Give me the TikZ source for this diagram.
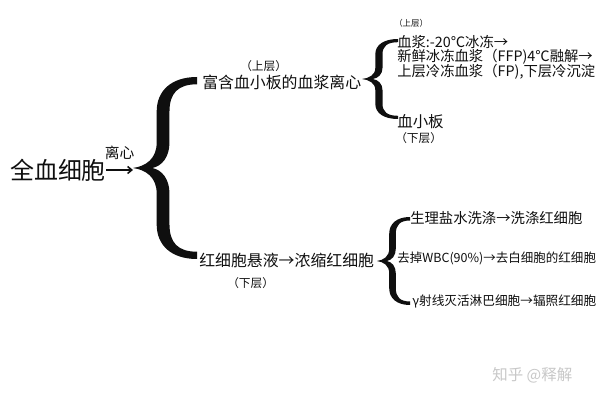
\documentclass[tikz,border=0pt]{standalone}
\usepackage{fontspec}
\setmainfont{Noto Sans CJK SC}
\definecolor{inkblack}{RGB}{15,15,15}
\definecolor{markgray}{RGB}{200,200,200}
\usetikzlibrary{arrows.meta}
\newcommand{\fsz}[1]{\fontsize{#1}{#1}\selectfont}
\tikzset{
  curly/.pic={
    \fill[inkblack] (1,1) .. controls (0.6,1) and (0.37,0.85) .. (0.37,0.62)
      -- (0.37,0.28) .. controls (0.37,0.1) and (0.2,0.02) .. (0,0)
      .. controls (0.2,-0.02) and (0.37,-0.1) .. (0.37,-0.28)
      -- (0.37,-0.62) .. controls (0.37,-0.85) and (0.6,-1) .. (1,-1)
      -- (1,-0.92) .. controls (0.7,-0.92) and (0.57,-0.82) .. (0.57,-0.62)
      -- (0.57,-0.28) .. controls (0.57,-0.12) and (0.45,-0.02) .. (0.3,0)
      .. controls (0.45,0.02) and (0.57,0.12) .. (0.57,0.28)
      -- (0.57,0.62) .. controls (0.57,0.82) and (0.7,0.92) .. (1,0.92) -- cycle;
  },
  lbl/.style={anchor=west, inner sep=0pt, text=inkblack},
  bigtxt/.style={lbl, font=\fsz{17pt}},
  midtxt/.style={lbl, font=\fsz{11.3pt}},
  smltxt/.style={lbl, font=\fsz{10.2pt}},
  layer/.style={lbl, font=\fsz{8.3pt}}
}
\begin{document}
\begin{tikzpicture}[x=0.025cm, y=-0.025cm]
\useasboundingbox (0,0) rectangle (600,400);
\fill[white] (0,0) rectangle (600,400);
% left: whole blood
\node[bigtxt] (whole) at (10,170) {全血细胞};
\coordinate (tipA) at (133,168); \coordinate (tipB) at (362,79); \coordinate (tipC) at (377,261);
\draw[inkblack, line width=1.1pt, -{Straight Barb[length=3pt,width=5pt]}] (whole.east) -- (whole.east -| tipA)
  node[midway, above=7pt, inner sep=0pt, font=\fsz{10.5pt}, text=inkblack] (spin) {离心};
\pic[xscale=64, yscale=91] at (tipA) {curly};
% upper branch
\node[layer] (upA) at (240,66) {（上层）};
\node[midtxt] (prp) at (202,82) {富含血小板的血浆离心};
\pic[xscale=36, yscale=40] at (tipB) {curly};
\node[lbl, font=\fsz{6pt}] (upB) at (394,23) {（上层）};
\node[smltxt] (pl1) at (397,42) {血浆:-20℃冰冻→};
\node[smltxt] (pl2) at (397,57) {新鲜冰冻血浆（FFP)4℃融解→};
\node[smltxt] (pl3) at (397,72) {上层冷冻血浆（FP),下层冷沉淀};
\node[lbl, font=\fsz{11pt}] (plt) at (397,122) {血小板};
\node[layer] (loB) at (395,138) {（下层）};
% lower branch
\node[midtxt] (rbc) at (199,260) {红细胞悬液→浓缩红细胞};
\node[layer] (loA) at (227,283) {（下层）};
\pic[xscale=33, yscale=44] at (tipC) {curly};
\node[smltxt] (rb1) at (410,218) {生理盐水洗涤→洗涤红细胞};
\node[lbl, font=\fsz{8.9pt}] (rb2) at (397,258) {去掉WBC(90\%)→去白细胞的红细胞};
\node[lbl, font=\fsz{9pt}] (rb3) at (412,301) {γ射线灭活淋巴细胞→辐照红细胞};
% watermark
\node[lbl, font=\fsz{11pt}, text=markgray] (mark) at (492,375) {知乎 @释解};
\end{tikzpicture}
\end{document}
